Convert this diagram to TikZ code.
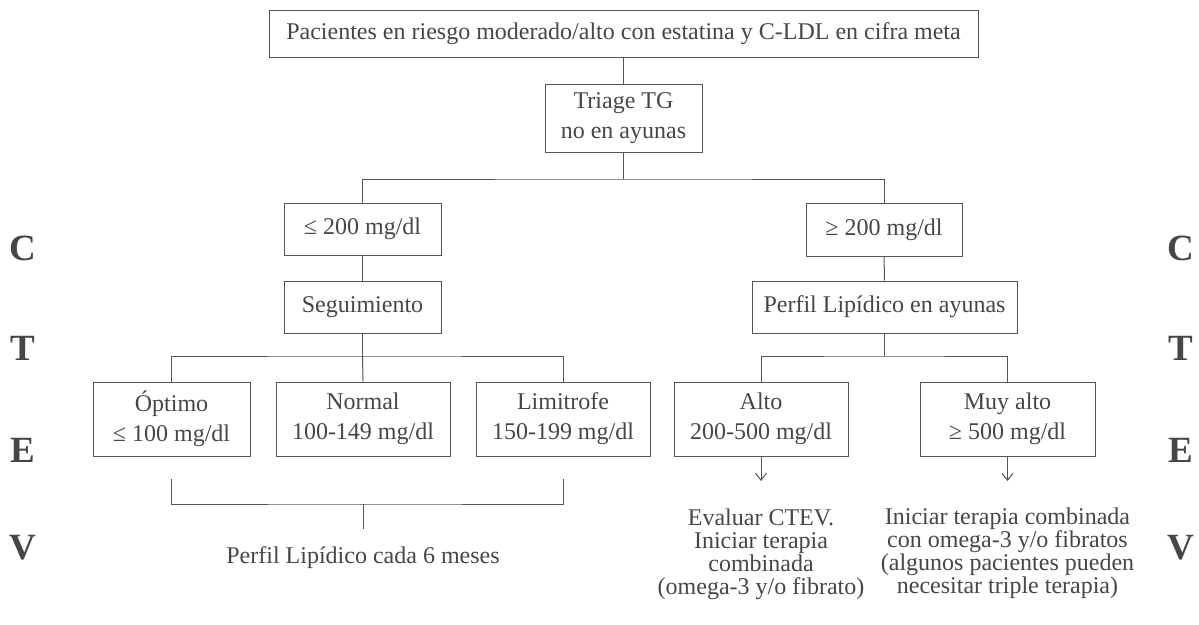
\documentclass[tikz,border=0pt]{standalone}
\usepackage{fontspec}
\setmainfont{Liberation Serif}
\usetikzlibrary{arrows.meta}
\definecolor{linec}{RGB}{85,85,85}
\definecolor{textc}{RGB}{70,70,70}
\begin{document}
\begin{tikzpicture}[x=1pt,y=-1pt,
  box/.style={draw=linec, line width=1pt, inner sep=0pt, align=center, text=textc,
    font=\fontsize{24}{30}\selectfont},
  plain/.style={inner sep=0pt, align=center, text=textc, font=\fontsize{24}{23}\selectfont},
  side/.style={inner sep=0pt, text=textc, font=\fontsize{37}{37}\selectfont\bfseries},
  conn/.style={draw=linec, line width=1pt},
  arr/.style={draw=linec, line width=1pt, -{Straight Barb[length=7pt,width=11pt,line width=1pt]}}
]
\useasboundingbox (0,0) rectangle (1199,624);

\node[box, minimum width=709pt, minimum height=47pt] (top) at (623.5,33.5)
  {Pacientes en riesgo moderado/alto con estatina y C-LDL en cifra meta};
\node[box, minimum width=157pt, minimum height=68pt] (triage) at (623.5,118)
  {Triage TG\\no en ayunas};
\node[box, minimum width=157pt, minimum height=52pt] (le200) at (362.5,229) {≤ 200 mg/dl};
\node[box, minimum width=157pt, minimum height=52pt] (seg) at (362.5,307) {Seguimiento};
\node[box, minimum width=156pt, minimum height=53pt] (ge200) at (884,229.5) {≥ 200 mg/dl};
\node[box, minimum width=265pt, minimum height=52pt] (perfil) at (884.5,307) {Perfil Lipídico en ayunas};

\node[box, minimum width=157pt, minimum height=74pt] (opt) at (171.5,419) {Óptimo\\≤ 100 mg/dl};
\node[box, minimum width=174pt, minimum height=74pt] (norm) at (363,419) {Normal\\100-149 mg/dl};
\node[box, minimum width=174pt, minimum height=74pt] (lim) at (563,419) {Limitrofe\\150-199 mg/dl};
\node[box, minimum width=174pt, minimum height=74pt] (alto) at (761,419) {Alto\\200-500 mg/dl};
\node[box, minimum width=175pt, minimum height=74pt] (muy) at (1007.5,419) {Muy alto\\≥ 500 mg/dl};

\coordinate (j1) at (623.5,179);
\coordinate (j2) at (362.5,356);
\coordinate (j3) at (884.5,356);
\draw[conn] (top) -- (triage);
\draw[conn] (triage) -- (j1);
\draw[conn] (le200.north) |- (j1) -| (ge200.north);
\draw[conn] (le200) -- (seg);
\draw[conn] (seg) -- (j2);
\draw[conn] (opt.north) |- (j2) -| (lim.north);
\draw[conn] (j2) -- (norm.north);
\draw[conn] (ge200) -- (perfil);
\draw[conn] (perfil) -- (j3);
\draw[conn] (alto.north) |- (j3) -| (muy.north);

% bracket
\coordinate (b1) at (171.5,479);
\coordinate (b2) at (563,479);
\coordinate (bj) at (363,504);
\coordinate (bs) at (363,529);
\draw[conn] (b1) |- (bj) -| (b2);
\draw[conn] (bj) -- (bs);
\node[plain, anchor=base] (cada) at (363,563) {Perfil Lipídico cada 6 meses};

% arrows
\coordinate (a1) at (761,481);
\coordinate (a2) at (1007.5,481);
\draw[arr] (alto) -- (a1);
\draw[arr] (muy) -- (a2);
\node[plain, anchor=north] (altotxt) at (761,509)
  {Evaluar CTEV.\\Iniciar terapia\\combinada\\(omega-3 y/o fibrato)};
\node[plain, anchor=north] (muytxt) at (1007.5,508)
  {Iniciar terapia combinada\\con omega-3 y/o fibratos\\(algunos pacientes pueden\\necesitar triple terapia)};

% side letters
\node[side] (lc) at (23,248) {C};
\node[side] (lt) at (23,348) {T};
\node[side] (le) at (23,450) {E};
\node[side] (lv) at (23,548) {V};
\node[side] (rc) at (1181,248) {C};
\node[side] (rt) at (1181,348) {T};
\node[side] (re) at (1181,450) {E};
\node[side] (rv) at (1181,548) {V};
\end{tikzpicture}
\end{document}
